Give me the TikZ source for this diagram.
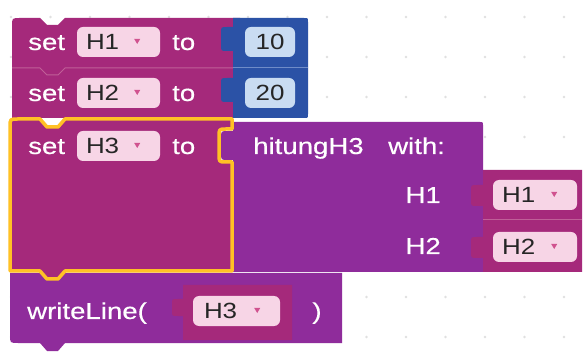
\documentclass[tikz,border=0pt]{standalone}
\usepackage{fontspec}
\newfontfamily\blkfam{Liberation Sans}[FakeStretch=1.2, FakeBold=0.4]
\newfontfamily\fldfam{Liberation Sans}[FakeStretch=1.18]
\usetikzlibrary{calc,positioning}
\definecolor{setmag}{HTML}{A5297B}
\definecolor{sepmag}{HTML}{C05F98}
\definecolor{callpur}{HTML}{8F2C9B}
\definecolor{numblue}{HTML}{2B52A6}
\definecolor{sepblue}{HTML}{6F8CC8}
\definecolor{numfld}{HTML}{C9DCF2}
\definecolor{varfld}{HTML}{F7D5E6}
\definecolor{selyel}{HTML}{FFC125}
\definecolor{arrmag}{HTML}{D0528F}
\definecolor{gridc}{HTML}{E0E0E0}

\tikzset{
  lbl/.style={text=white, inner sep=0pt, text height=16pt, text depth=0pt,
    font=\blkfam\fontsize{23}{23}\selectfont},
  fldtxt/.style={text=black!85, inner sep=0pt, text height=15.5pt, text depth=0pt,
    font=\fldfam\fontsize{22}{22}\selectfont},
  varbox/.style={fill=varfld, rounded corners=6pt, inner sep=0pt, minimum height=30pt},
  numbox/.style={fill=numfld, rounded corners=6pt, inner sep=0pt, minimum height=30pt, minimum width=50pt},
  sepline/.style={line width=1pt}
}

\begin{document}
\begin{tikzpicture}[x=1pt,y=-1pt]
\fill[white] (0,0) rectangle (583,352);
\useasboundingbox (0,0) rectangle (583,352);
% workspace grid dots
\foreach \i in {0,...,14}
  \foreach \j in {0,...,8}
    \fill[gridc] (11+39.5*\i,17+40*\j) circle (1.3);
% set H1 to 10
\fill[setmag] (12,68) -- (12,26) .. controls (12,18) .. (20,18) -- (40,18) -- (47,25) -- (58,25)
  -- (65,18) -- (240,18) -- (240,68) -- cycle;
\fill[numblue] (233,18) -- (304,18) .. controls (308,18) .. (308,22) -- (308,68) -- (233,68) -- (233,51)
  -- (227,51) .. controls (221,51) .. (221,45) -- (221,33) .. controls (221,27) .. (227,27) -- (233,27) -- cycle;
% set H2 to 20
\fill[setmag] (12,68) -- (12,118) -- (240,118) -- (240,68) -- cycle;
\fill[numblue] (233,68) -- (308,68) -- (308,114) .. controls (308,118) .. (304,118) -- (233,118) -- (233,102)
  -- (227,102) .. controls (221,102) .. (221,96) -- (221,84) .. controls (221,78) .. (227,78) -- (233,78) -- cycle;
\draw[sepline, sepmag] (12,68) -- (40,68) -- (47,75) -- (58,75) -- (65,68) -- (233,68);
\draw[sepline, sepblue] (233,68) -- (308,68);
% writeLine block
\fill[callpur] (10,273) -- (342,273) -- (342,343) -- (65,343) -- (58,351) -- (47,351) -- (40,343)
  -- (18,343) .. controls (10,343) .. (10,335) -- cycle;
\fill[setmag] (183,285) -- (292,285) -- (292,340) -- (183,340) -- (183,316) -- (178,316)
  .. controls (172,316) .. (172,311) -- (172,304) .. controls (172,299) .. (178,299) -- (183,299) -- cycle;
% set H3 to hitungH3
\fill[setmag] (10,271) -- (10,127) .. controls (10,119) .. (18,119) -- (40,119) -- (47,127) -- (58,127)
  -- (65,119) -- (232,119) -- (232,129) -- (226,129) .. controls (219,129) .. (219,137) -- (219,154)
  .. controls (219,162) .. (226,162) -- (232,162) -- (232,271) -- (65,271) -- (58,279) -- (47,279)
  -- (40,271) -- cycle;
\fill[callpur] (233,122) -- (480,122) .. controls (483,122) .. (483,125) -- (483,272) -- (233,272)
  -- (233,160) -- (228,160) .. controls (221,160) .. (221,153) -- (221,138) .. controls (221,131) .. (228,131)
  -- (233,131) -- cycle;
% argument blocks H1 and H2
\fill[setmag] (483,170) -- (582,170) -- (582,220) -- (483,220) -- (483,206) -- (477,206)
  .. controls (471,206) .. (471,200) -- (471,191) .. controls (471,185) .. (477,185) -- (483,185) -- cycle;
\fill[setmag] (483,220) -- (582,220) -- (582,272) -- (483,272) -- (483,258) -- (477,258)
  .. controls (471,258) .. (471,252) -- (471,243) .. controls (471,237) .. (477,237) -- (483,237) -- cycle;
\draw[sepline, sepmag] (483,220) -- (582,220);
% selection outline
\draw[selyel, line width=3.5pt, line join=round] (10,271) -- (10,127) .. controls (10,119) .. (18,119)
  -- (40,119) -- (47,127) -- (58,127) -- (65,119) -- (232,119) -- (232,129) -- (226,129)
  .. controls (219,129) .. (219,137) -- (219,154) .. controls (219,162) .. (226,162) -- (232,162)
  -- (232,271) -- (65,271) -- (58,279) -- (47,279) -- (40,271) -- cycle;
% fields
\node[varbox, minimum width=83pt] (f1) at (118.5,42) {};
\node[varbox, minimum width=83pt] (f2) at (118.5,93) {};
\node[varbox, minimum width=83pt] (f3) at (118.5,146) {};
\node[varbox, minimum width=84pt] (r1) at (535,195) {};
\node[varbox, minimum width=84pt] (r2) at (535,247) {};
\node[varbox, minimum width=87pt] (w3) at (236.5,311) {};
\node[numbox] (n1) at (270,42) {};
\node[numbox] (n2) at (270,93) {};
\foreach \f in {f1,f2,f3,r1,r2,w3}
  \fill[arrmag] ([xshift=-26pt,yshift=3pt]\f.east) -- ++(6,0) -- ++(-3,5) -- cycle;
\node[fldtxt, anchor=west] (f1t) at ([xshift=9pt]f1.west) {H1};
\node[fldtxt, anchor=west] (f2t) at ([xshift=9pt]f2.west) {H2};
\node[fldtxt, anchor=west] (f3t) at ([xshift=9pt]f3.west) {H3};
\node[fldtxt, anchor=west] (r1t) at ([xshift=9pt]r1.west) {H1};
\node[fldtxt, anchor=west] (r2t) at ([xshift=9pt]r2.west) {H2};
\node[fldtxt, anchor=west] (w3t) at ([xshift=11pt]w3.west) {H3};
\node[fldtxt] (n1t) at (n1) {10};
\node[fldtxt] (n2t) at (n2) {20};
% labels
\node[lbl, anchor=west] (set1) at (28,42) {set};
\node[lbl, anchor=west] (to1) at (172,42) {to};
\node[lbl, anchor=west] (set2) at (28,93) {set};
\node[lbl, anchor=west] (to2) at (172,93) {to};
\node[lbl, anchor=west] (set3) at (28,146) {set};
\node[lbl, anchor=west] (to3) at (172,146) {to};
\node[lbl, anchor=west] (call) at (253,146) {hitungH3};
\node[lbl, anchor=west] (with) at (388,146) {with:};
\node[lbl, anchor=east] (arg1) at (441,195) {H1};
\node[lbl, anchor=east] (arg2) at (441,246) {H2};
\node[lbl, anchor=west] (wl) at (27,311) {writeLine(};
\node[lbl] (close) at (317,311) {)};
\end{tikzpicture}
\end{document}
